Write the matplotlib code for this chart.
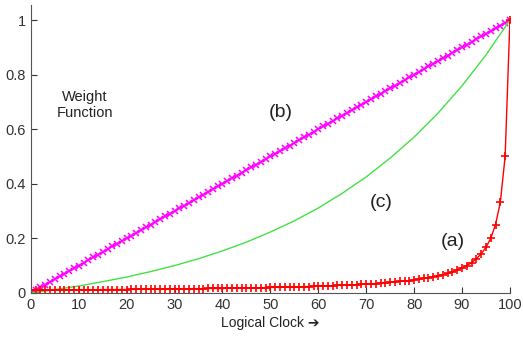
import matplotlib
matplotlib.use("Agg")
import matplotlib.pyplot as plt

plt.rcParams['font.family'] = ['Liberation Sans', 'DejaVu Sans']

# logical clock values 0..100
clock = list(range(0, 101))

# (b) linear weight
weight_b = [
    0.00, 0.01, 0.02, 0.03, 0.04, 0.05, 0.06, 0.07, 0.08, 0.09,
    0.10, 0.11, 0.12, 0.13, 0.14, 0.15, 0.16, 0.17, 0.18, 0.19,
    0.20, 0.21, 0.22, 0.23, 0.24, 0.25, 0.26, 0.27, 0.28, 0.29,
    0.30, 0.31, 0.32, 0.33, 0.34, 0.35, 0.36, 0.37, 0.38, 0.39,
    0.40, 0.41, 0.42, 0.43, 0.44, 0.45, 0.46, 0.47, 0.48, 0.49,
    0.50, 0.51, 0.52, 0.53, 0.54, 0.55, 0.56, 0.57, 0.58, 0.59,
    0.60, 0.61, 0.62, 0.63, 0.64, 0.65, 0.66, 0.67, 0.68, 0.69,
    0.70, 0.71, 0.72, 0.73, 0.74, 0.75, 0.76, 0.77, 0.78, 0.79,
    0.80, 0.81, 0.82, 0.83, 0.84, 0.85, 0.86, 0.87, 0.88, 0.89,
    0.90, 0.91, 0.92, 0.93, 0.94, 0.95, 0.96, 0.97, 0.98, 0.99,
    1.00,
]

# (a) flat, then shoots up over the last few clock ticks
weight_a = [
    0.010, 0.010, 0.010, 0.010, 0.010, 0.010, 0.011, 0.011, 0.011, 0.011,
    0.011, 0.011, 0.011, 0.011, 0.011, 0.012, 0.012, 0.012, 0.012, 0.012,
    0.012, 0.013, 0.013, 0.013, 0.013, 0.013, 0.013, 0.014, 0.014, 0.014,
    0.014, 0.014, 0.014, 0.015, 0.015, 0.015, 0.015, 0.016, 0.016, 0.016,
    0.016, 0.017, 0.017, 0.017, 0.018, 0.018, 0.018, 0.019, 0.019, 0.019,
    0.020, 0.020, 0.020, 0.021, 0.021, 0.022, 0.022, 0.023, 0.023, 0.024,
    0.024, 0.025, 0.026, 0.026, 0.027, 0.028, 0.029, 0.029, 0.030, 0.031,
    0.032, 0.033, 0.034, 0.036, 0.037, 0.038, 0.040, 0.042, 0.043, 0.045,
    0.048, 0.050, 0.053, 0.056, 0.059, 0.063, 0.067, 0.071, 0.077, 0.083,
    0.091, 0.100, 0.111, 0.125, 0.143, 0.167, 0.200, 0.250, 0.333, 0.500,
    1.000,
]

# (c) smooth curve, no markers
clock_c = [0, 5, 10, 15, 20, 25, 30, 35, 40, 45, 50,
           55, 60, 65, 70, 75, 80, 85, 90, 95, 100]
weight_c = [0.000, 0.012, 0.025, 0.041, 0.058, 0.078, 0.100, 0.125, 0.154, 0.186, 0.223,
            0.264, 0.311, 0.365, 0.425, 0.494, 0.571, 0.659, 0.759, 0.872, 1.000]

fig = plt.figure(figsize=(5.23, 3.37), dpi=100)
ax = fig.add_axes([0.059, 0.131, 0.916, 0.854])

ax.plot(clock, weight_b, color='#ff00ff', marker='x', markersize=5, markeredgewidth=1.1, linewidth=1)
ax.plot(clock_c, weight_c, color='#44e044', linewidth=1)
ax.plot(clock, weight_a, color='#ff0000', marker='+', markersize=6, markeredgewidth=1.2, linewidth=1)

ax.set_xlim(0, 100)
ax.set_ylim(0, 1.055)
ax.set_xticks([0, 10, 20, 30, 40, 50, 60, 70, 80, 90, 100])
ax.set_yticks([0, 0.2, 0.4, 0.6, 0.8, 1])
ax.set_yticklabels(['0', '0.2', '0.4', '0.6', '0.8', '1'])
ax.tick_params(direction='in', length=4, labelsize=10.5, colors='#333333')
ax.spines['top'].set_visible(False)
ax.spines['right'].set_visible(False)
ax.spines['left'].set_color('#555555')
ax.spines['bottom'].set_color('#555555')

ax.text(11.2, 0.69, 'Weight\nFunction', ha='center', va='center', fontsize=10.5, color='#222222')
ax.text(52.2, 0.66, '(b)', ha='center', va='center', fontsize=14, color='#222222')
ax.text(73.2, 0.33, '(c)', ha='center', va='center', fontsize=14, color='#222222')
ax.text(88.1, 0.19, '(a)', ha='center', va='center', fontsize=14, color='#222222')

ax.set_xlabel('Logical Clock \u2794', fontsize=10, color='#222222', labelpad=3)

fig.savefig('out.png', dpi=100)
